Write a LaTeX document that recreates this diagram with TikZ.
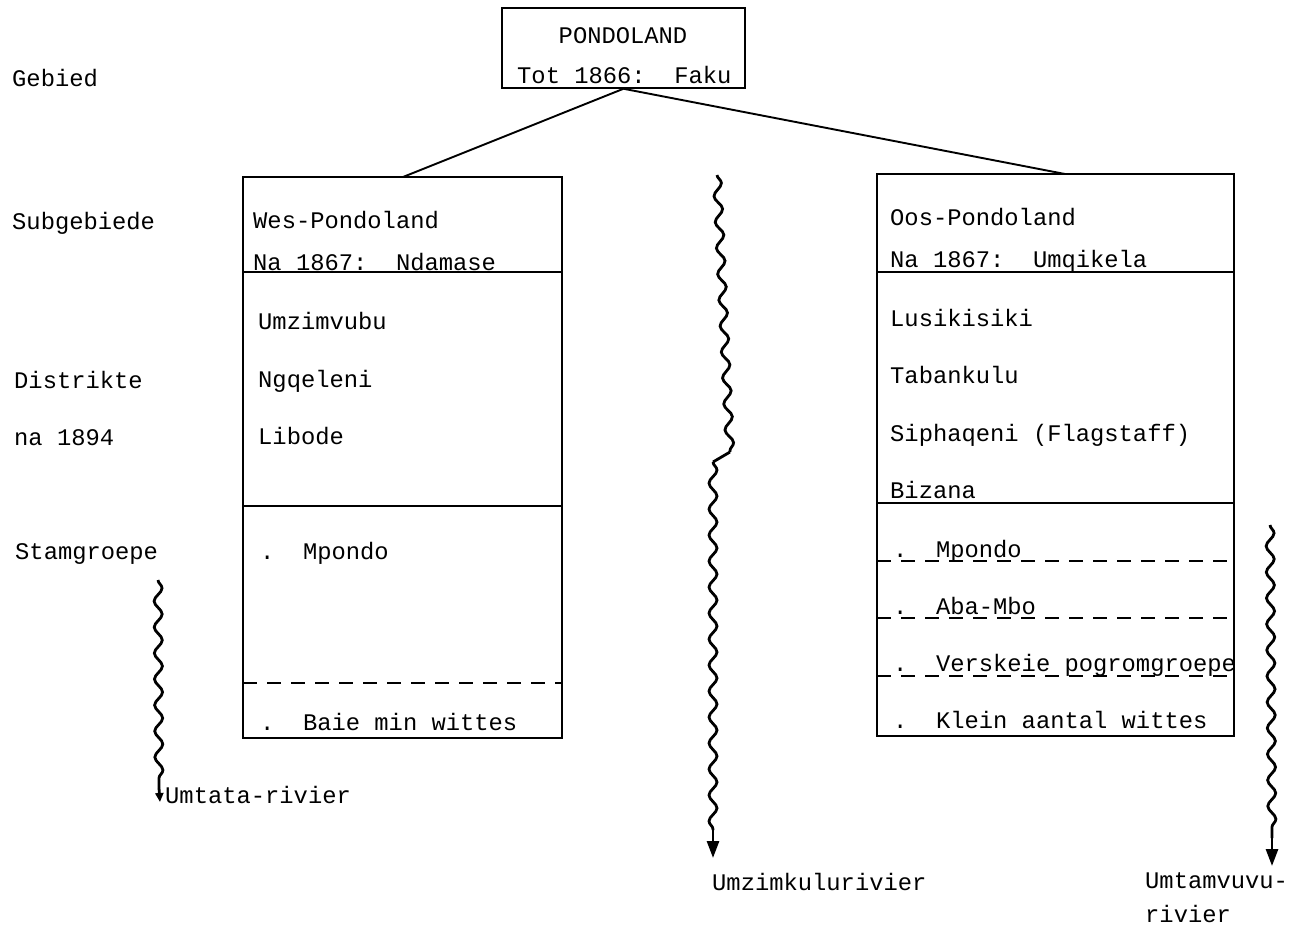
\documentclass[tikz,border=0pt]{standalone}
\usepackage{fontspec}
\setmonofont{Liberation Mono}
\usetikzlibrary{decorations.pathmorphing,arrows.meta}
\begin{document}
\begin{tikzpicture}[x=1pt,y=-1pt,
  txt/.style={anchor=base west,inner sep=0pt,font=\ttfamily\fontsize{23.8}{28}\selectfont},
  ctxt/.style={anchor=base,inner sep=0pt,font=\ttfamily\fontsize{23.8}{28}\selectfont},
  boxline/.style={line width=1.5pt},
  divline/.style={line width=1.5pt},
  dashline/.style={line width=1.5pt,dash pattern=on 14pt off 10pt},
  conn/.style={line width=1.9pt},
  wavy/.style={line width=2.8pt,decorate,decoration={snake,segment length=26pt,amplitude=4pt}},
  rivertip/.style={line width=2.8pt,-{Triangle[length=17pt,width=12pt]}},
  smalltip/.style={line width=2.8pt,-{Triangle[length=9pt,width=8pt]}}
]
\useasboundingbox (0,0) rectangle (1300,927);

% boxes
\node[boxline,draw,minimum width=243pt,minimum height=80pt,inner sep=0pt] (top) at (623.5,48) {};
\node[boxline,draw,minimum width=319pt,minimum height=561pt,inner sep=0pt] (wes) at (402.5,457.5) {};
\node[boxline,draw,minimum width=357pt,minimum height=562pt,inner sep=0pt] (oos) at (1055.5,455) {};

% dividers
\draw[divline] (243,272) -- (562,272);
\draw[divline] (243,506) -- (562,506);
\draw[dashline] (243,683) -- (562,683);
\draw[divline] (877,272) -- (1234,272);
\draw[divline] (877,503) -- (1234,503);
\draw[dashline] (877,561) -- (1234,561);
\draw[dashline] (877,618) -- (1234,618);
\draw[dashline] (877,676) -- (1234,676);

% connectors
\coordinate (wj) at (403,177);
\coordinate (oj) at (1065,174);
\draw[conn] (top.south) -- (wj);
\draw[conn] (top.south) -- (oj);

% top box text
\node[ctxt] (t1) at (623,43) {PONDOLAND};
\node[txt] (t2) at (517,83) {Tot 1866:\ \ Faku};

% left labels
\node[txt] (l1) at (12,86) {Gebied};
\node[txt] (l2) at (12,229) {Subgebiede};
\node[txt] (l3) at (14,388) {Distrikte};
\node[txt] (l4) at (14,445) {na 1894};
\node[txt] (l5) at (15,559) {Stamgroepe};

% west box text
\node[txt] (w1) at (253,228) {Wes-Pondoland};
\node[txt] (w2) at (253,270) {Na 1867:\ \ Ndamase};
\node[txt] (w3) at (258,329) {Umzimvubu};
\node[txt] (w4) at (258,387) {Ngqeleni};
\node[txt] (w5) at (258,444) {Libode};
\node[txt] (w6) at (260,559) {.\ \ Mpondo};
\node[txt] (w7) at (260,730) {.\ \ Baie min wittes};

% east box text
\node[txt] (o1) at (890,225) {Oos-Pondoland};
\node[txt] (o2) at (890,267) {Na 1867:\ \ Umqikela};
\node[txt] (o3) at (890,326) {Lusikisiki};
\node[txt] (o4) at (890,383) {Tabankulu};
\node[txt] (o5) at (890,441) {Siphaqeni (Flagstaff)};
\node[txt] (o6) at (890,498) {Bizana};
\node[txt] (o7) at (893,557) {.\ \ Mpondo};
\node[txt] (o8) at (893,614) {.\ \ Aba-Mbo};
\node[txt] (o9) at (893,671) {.\ \ Verskeie pogromgroepe};
\node[txt] (o10) at (893,728) {.\ \ Klein aantal wittes};

% rivers
\coordinate (r1s) at (158,580);
\coordinate (r1m) at (159,788);
\coordinate (r1e) at (160,802);
\draw[wavy] (r1s) -- (r1m);
\draw[smalltip] (r1m) -- (r1e);
\node[txt] (rl1) at (165,803) {Umtata-rivier};

\coordinate (r2s) at (717,175);
\coordinate (r2k) at (730,452);
\coordinate (r2m) at (713,462);
\coordinate (r2n) at (713,830);
\coordinate (r2e) at (713,858);
\draw[wavy] (r2s) -- (r2k);
\draw[line width=2.8pt] (r2k) -- (r2m);
\draw[wavy] (r2m) -- (r2n);
\draw[rivertip] (r2n) -- (r2e);
\node[txt] (rl2) at (712,890) {Umzimkulurivier};

\coordinate (r3s) at (1270,525);
\coordinate (r3n) at (1272,838);
\coordinate (r3e) at (1272,866);
\draw[wavy] (r3s) -- (r3n);
\draw[rivertip] (r3n) -- (r3e);
\node[txt] (rl3) at (1145,888) {Umtamvuvu-};
\node[txt] (rl4) at (1145,922) {rivier};
\end{tikzpicture}
\end{document}
